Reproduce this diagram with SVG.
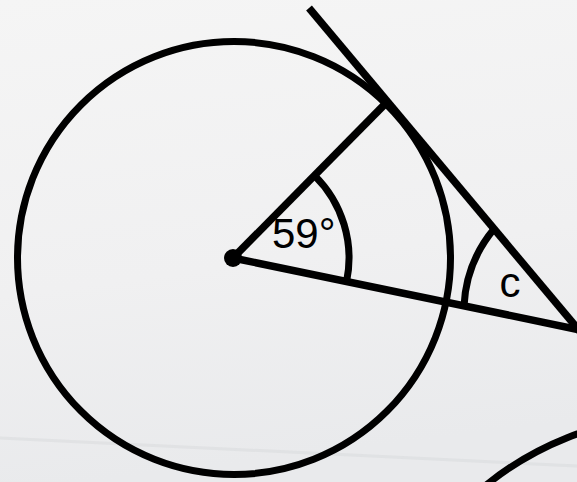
<svg xmlns="http://www.w3.org/2000/svg" width="577" height="482" viewBox="0 0 577 482">
  <defs>
    <linearGradient id="bg" x1="0" y1="0" x2="0.15" y2="1">
      <stop offset="0" stop-color="#f5f5f5"/>
      <stop offset="0.6" stop-color="#f0f0f1"/>
      <stop offset="1" stop-color="#e9eaec"/>
    </linearGradient>
    <style>
      .ln { fill: none; stroke: #000; stroke-width: 7.5; stroke-linecap: butt; }
      .cir { fill: none; stroke: #000; stroke-width: 7; }
      .arc { fill: none; stroke: #000; stroke-width: 7; }
      .lbl { font-family: "Liberation Sans", Arial, sans-serif; font-size: 42px; fill: #000; }
    </style>
  </defs>
  <rect x="0" y="0" width="577" height="482" fill="url(#bg)"/>
  <path d="M0 438 L577 466" stroke="#d8d9db" stroke-width="3" opacity="0.5" fill="none"/>

  <g id="main-circle">
    <circle class="cir" cx="234" cy="258" r="216.5"/>
  </g>
  <g id="second-circle">
    <circle class="cir" cx="681" cy="725" r="309"/>
  </g>

  <g id="connectors">
    <line id="tangent" class="ln" x1="309" y1="8" x2="585" y2="337.5"/>
    <line id="radius" class="ln" x1="233" y1="258" x2="388" y2="101"/>
    <line id="secant" class="ln" x1="233" y1="258" x2="590" y2="332"/>
  </g>

  <g id="center-dot">
    <circle cx="233" cy="258" r="9" fill="#000"/>
  </g>

  <g id="angle-59">
    <path class="arc" d="M346.6 281.5 A116 116 0 0 0 314.5 175.4"/>
    <text class="lbl" x="272" y="247.5">59°</text>
  </g>

  <g id="angle-c">
    <path class="arc" d="M464 306 A130 130 0 0 1 494 229"/>
    <text class="lbl" x="499.5" y="296.5">c</text>
  </g>
</svg>
